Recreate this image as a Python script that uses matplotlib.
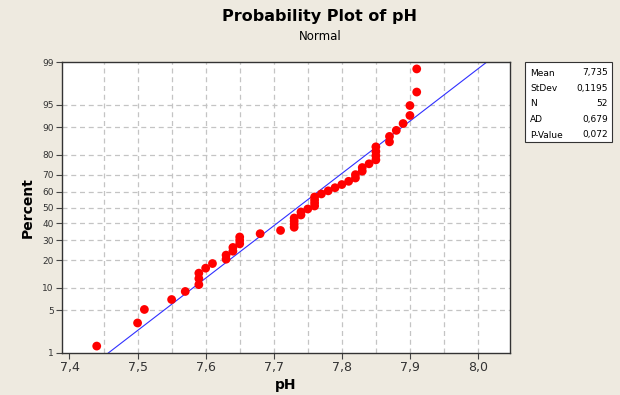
import numpy as np
import matplotlib.pyplot as plt
from matplotlib.patches import Rectangle
from statistics import NormalDist

# pH values, sorted
ph = [7.44, 7.50, 7.51, 7.55, 7.57, 7.59, 7.59, 7.59, 7.60, 7.61,
      7.63, 7.63, 7.64, 7.64, 7.65, 7.65, 7.65, 7.68, 7.71, 7.73,
      7.73, 7.73, 7.73, 7.74, 7.74, 7.75, 7.76, 7.76, 7.76, 7.76,
      7.77, 7.78, 7.79, 7.80, 7.81, 7.82, 7.82, 7.83, 7.83, 7.84,
      7.85, 7.85, 7.85, 7.85, 7.87, 7.87, 7.88, 7.89, 7.90, 7.90,
      7.91, 7.91]
pct_ticks = [1, 5, 10, 20, 30, 40, 50, 60, 70, 80, 90, 95, 99]
x_ticks = [7.4, 7.5, 7.6, 7.7, 7.8, 7.9, 8.0]
stat_names = ['Mean', 'StDev', 'N', 'AD', 'P-Value']
stat_vals = ['7,735', '0,1195', '52', '0,679', '0,072']
mean_txt, sd_txt = 7.735, 0.1195

nd = NormalDist()
n = len(ph)
# median ranks (Benard), as Minitab does
p = [(i + 1 - 0.3) / (n + 0.4) for i in range(n)]
z = [nd.inv_cdf(q) for q in p]

bg = '#EEEAE0'
fig = plt.figure(figsize=(6.2, 3.95), dpi=100, facecolor=bg)
ax = fig.add_axes([62 / 620, 42 / 395, 448 / 620, 291 / 395])
ax.set_facecolor('white')

zlim = nd.inv_cdf(0.99)
ax.set_ylim(-zlim, zlim)
ax.set_xlim(7.389, 8.047)

# grid
for gx in np.arange(7.45, 8.05, 0.05):
    ax.axvline(gx, color='#c4c4c4', lw=0.9, ls=(0, (4, 3)), zorder=0)
for t in pct_ticks[1:-1]:
    ax.axhline(nd.inv_cdf(t / 100), color='#c4c4c4', lw=0.9, ls=(0, (4, 3)), zorder=0)

# fitted line
zz = np.linspace(-3, 3, 50)
ax.plot(mean_txt + sd_txt * zz, zz, color='#3030ff', lw=0.8, zorder=2)

ax.scatter(ph, z, s=40, color='#ff0000', edgecolors='none', zorder=3)

ax.set_yticks([nd.inv_cdf(t / 100) for t in pct_ticks])
ax.set_yticklabels([str(t) for t in pct_ticks], fontsize=6.5, color='#333333')
ax.set_xticks(x_ticks)
ax.set_xticklabels([f'{t:.1f}'.replace('.', ',') for t in x_ticks], fontsize=9, color='#333333')
ax.tick_params(axis='both', direction='out', length=4, width=0.8, color='#444444', pad=2)
for s in ax.spines.values():
    s.set_color('#333333')
    s.set_linewidth(1.0)

ax.set_xlabel('pH', fontsize=10, fontweight='bold', labelpad=3)
ax.set_ylabel('Percent', fontsize=10, fontweight='bold', labelpad=5)

fig.text(0.5 + 10 / 620, 1 - 17 / 395, 'Probability Plot of pH', ha='center', va='center',
         fontsize=11.5, fontweight='bold')
fig.text(0.5 + 10 / 620, 1 - 36 / 395, 'Normal', ha='center', va='center', fontsize=8.5)

# statistics box
fig.patches.append(Rectangle((525 / 620, 1 - 142 / 395), 87 / 620, 80 / 395,
                             transform=fig.transFigure, facecolor='white',
                             edgecolor='#333333', lw=0.8))
for k, (nm, v) in enumerate(zip(stat_names, stat_vals)):
    yy = 1 - (73 + k * 15.5) / 395
    fig.text(530 / 620, yy, nm, ha='left', va='center', fontsize=6.5)
    fig.text(608 / 620, yy, v, ha='right', va='center', fontsize=6.5)

fig.savefig('out.png', dpi=100, facecolor=bg)
